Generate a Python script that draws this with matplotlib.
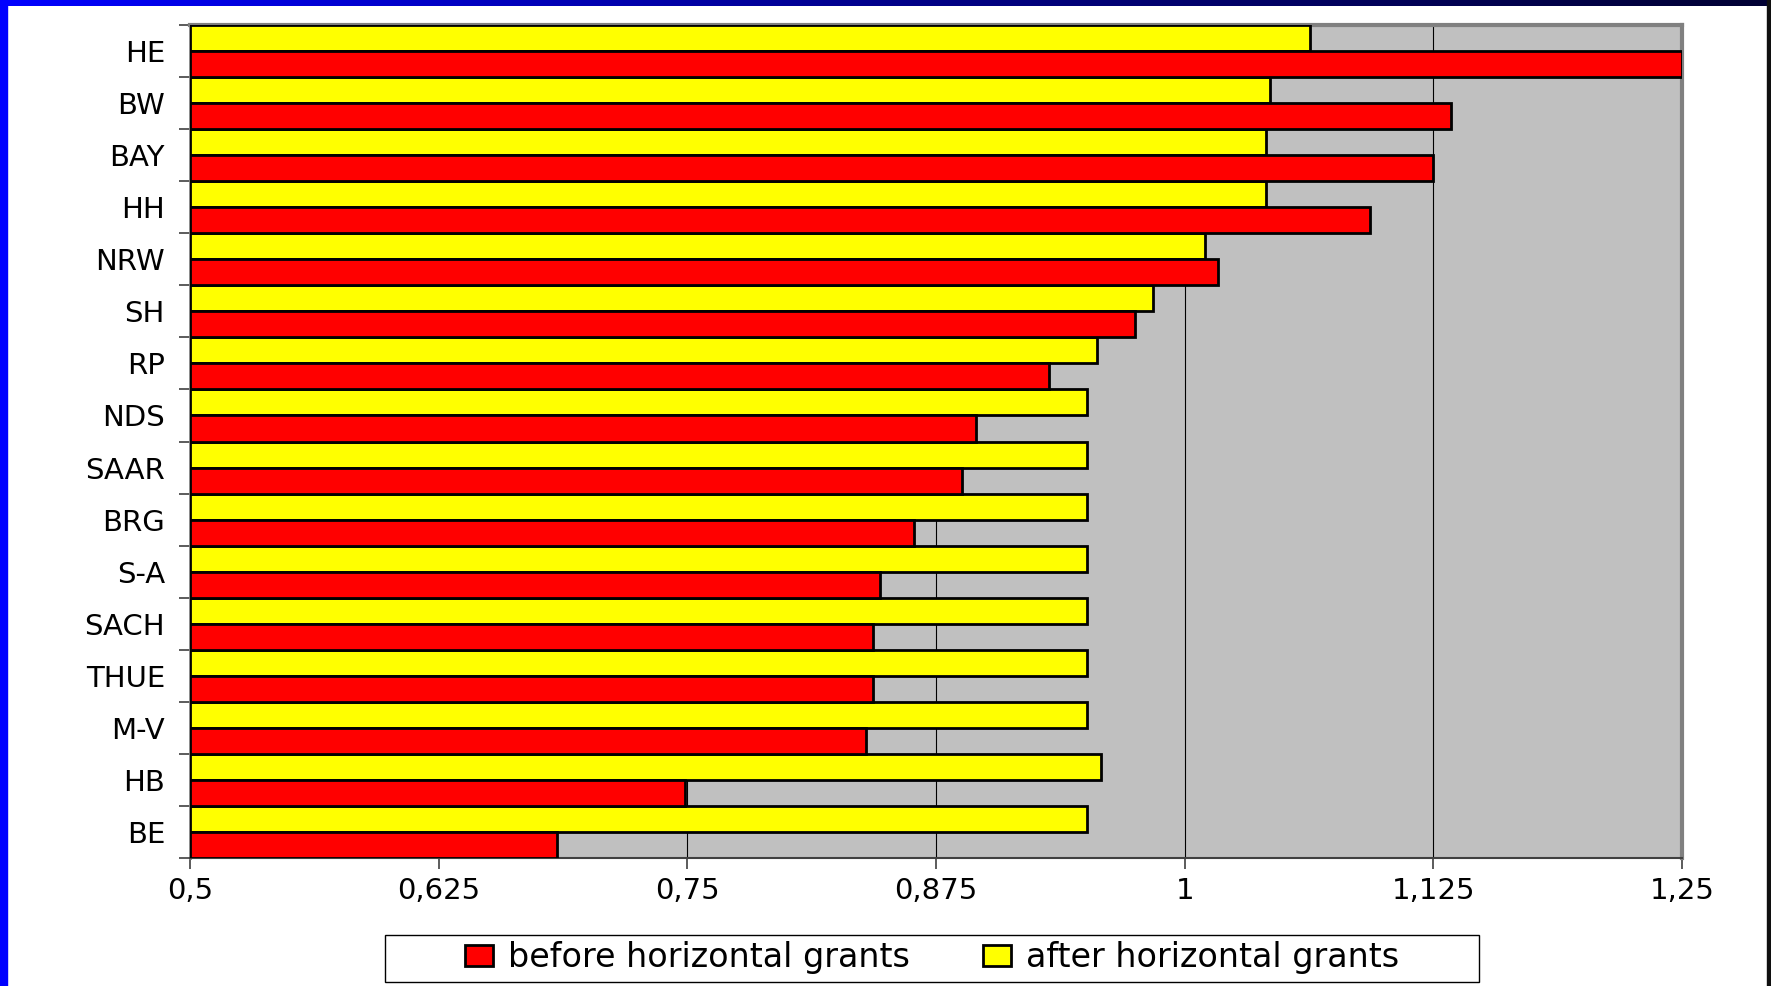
import matplotlib.pyplot as plt
import numpy as np
from matplotlib.patches import Rectangle, Patch
from matplotlib.ticker import FixedLocator, FuncFormatter
from matplotlib.colors import LinearSegmentedColormap

plt.rcParams['font.family'] = ['DejaVu Sans']

# states, top to bottom
states = ['HE', 'BW', 'BAY', 'HH', 'NRW', 'SH', 'RP', 'NDS', 'SAAR', 'BRG',
          'S-A', 'SACH', 'THUE', 'M-V', 'HB', 'BE']
before = [1.25, 1.134, 1.125, 1.093, 1.017, 0.975, 0.932, 0.895, 0.888, 0.864,
          0.847, 0.8435, 0.8435, 0.840, 0.749, 0.6845]
after = [1.063, 1.043, 1.041, 1.041, 1.010, 0.984, 0.956, 0.951, 0.951, 0.951,
         0.951, 0.951, 0.951, 0.951, 0.958, 0.951]
xticks = [0.5, 0.625, 0.75, 0.875, 1.0, 1.125, 1.25]
base = 0.5

fig = plt.figure(figsize=(17.71, 9.86), dpi=100)
ax = fig.add_axes([190/1771, 1-858/986, (1682-190)/1771, (858-25)/986])
ax.set_facecolor('#c0c0c0')

pos = np.arange(len(states))
ax.barh(pos - 0.5, np.array(after) - base, left=base, height=0.5, align='edge',
        color='#ffff00', edgecolor='black', linewidth=2, zorder=3)
ax.barh(pos, np.array(before) - base, left=base, height=0.5, align='edge',
        color='#ff0000', edgecolor='black', linewidth=2, zorder=3)

ax.set_xlim(0.5, 1.25)
ax.set_ylim(len(states) - 0.5, -0.5)
ax.set_xticks(xticks)
ax.xaxis.set_major_formatter(FuncFormatter(lambda v, p: ('%g' % v).replace('.', ',')))
ax.set_yticks(pos)
ax.set_yticklabels(states)
ax.yaxis.set_minor_locator(FixedLocator(np.arange(-0.5, len(states), 1)))
ax.tick_params(axis='y', which='major', length=0, pad=18, labelsize=21)
ax.tick_params(axis='y', which='minor', length=8, width=1.2, color='#404040')
ax.tick_params(axis='x', length=8, width=1.2, color='#404040', pad=6, labelsize=21)

ax.grid(axis='x', color='black', linewidth=0.8)
ax.set_axisbelow(True)

for s in ['top', 'right']:
    ax.spines[s].set_color('#808080')
    ax.spines[s].set_linewidth(3)
ax.spines['left'].set_color('#808080')
ax.spines['left'].set_linewidth(2)
ax.spines['bottom'].set_color('#404040')
ax.spines['bottom'].set_linewidth(1.5)

# legend box drawn by hand so it spans the same width as the original
fig.patches.append(Rectangle((385/1771, 1-982/986), (1479-385)/1771, (982-935)/986,
                             transform=fig.transFigure, facecolor='white',
                             edgecolor='black', linewidth=1, zorder=5))
handles = [Patch(facecolor='#ff0000', edgecolor='black', linewidth=2),
           Patch(facecolor='#ffff00', edgecolor='black', linewidth=2)]
leg = fig.legend(handles, ['before horizontal grants', 'after horizontal grants'],
                 loc='center', bbox_to_anchor=(932/1771, 1-958/986), ncol=2,
                 fontsize=24, frameon=False,
                 handlelength=0.85, handleheight=0.6, handletextpad=0.45,
                 columnspacing=2.2, borderpad=0.3, borderaxespad=0)
leg.set_zorder(6)

# slide frame: blue on the left, gradient on top, dark line on the right
fig.patches.append(Rectangle((0, 0), 7/1771, 1, transform=fig.transFigure,
                             color='#0000ff', zorder=10))
gax = fig.add_axes([0, 1-6/986, 1, 6/986])
grad = np.linspace(0, 1, 256).reshape(1, -1)
cmap = LinearSegmentedColormap.from_list('topbar', ['#0000ff', '#00008a', '#000033'])
gax.imshow(grad, aspect='auto', cmap=cmap)
gax.axis('off')
fig.patches.append(Rectangle((1767/1771, 0), 3/1771, 1, transform=fig.transFigure,
                             color='#101010', zorder=10))

fig.savefig('out.png', dpi=100)
